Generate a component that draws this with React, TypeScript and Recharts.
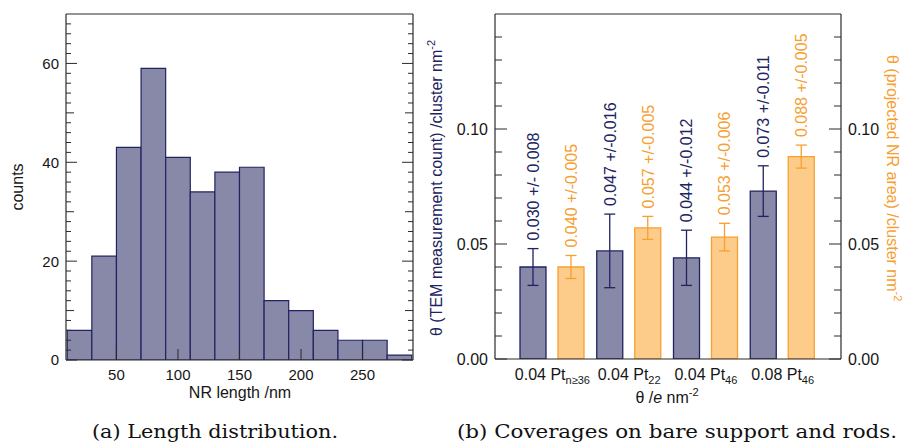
import React from "react";
import { Bar, BarChart, ErrorBar, LabelList, XAxis, YAxis } from "recharts";

// (a) histogram of nanorod lengths, 20 nm bins
const binStarts = [10, 30, 50, 70, 90, 110, 130, 150, 170, 190, 210, 230, 250, 270];
const binCounts = [6, 21, 43, 59, 41, 34, 38, 39, 12, 10, 6, 4, 4, 1];
const lengthTicks = [50, 100, 150, 200, 250];
const countTicks = [
  0, 2, 4, 6, 8, 10, 12, 14, 16, 18, 20, 22, 24, 26, 28, 30, 32, 34, 36, 38, 40,
  42, 44, 46, 48, 50, 52, 54, 56, 58, 60, 62, 64, 66, 68,
];

// (b) coverages
const coveragePrefix = ["0.04 Pt", "0.04 Pt", "0.04 Pt", "0.08 Pt"];
const coverageSub = ["n≥36", "22", "46", "46"];
const temValues = [0.04, 0.047, 0.044, 0.073];
const temErrors = [0.008, 0.016, 0.012, 0.011];
const temLabels = ["0.030 +/- 0.008", "0.047 +/-0.016", "0.044 +/-0.012", "0.073 +/-0.011"];
const areaValues = [0.04, 0.057, 0.053, 0.088];
const areaErrors = [0.005, 0.005, 0.006, 0.005];
const areaLabels = ["0.040 +/-0.005", "0.057 +/-0.005", "0.053 +/-0.006", "0.088 +/-0.005"];
const thetaTicks = [
  0, 0.01, 0.02, 0.03, 0.04, 0.05, 0.06, 0.07, 0.08, 0.09, 0.1, 0.11, 0.12, 0.13, 0.14,
];

const histData = binStarts.map((start, i) => ({ mid: start + 10, count: binCounts[i] }));
const coverageKeys = coveragePrefix.map((p, i) => p + coverageSub[i]);
const coverageData = coverageKeys.map((key, i) => ({
  cat: key,
  tem: temValues[i],
  temErr: temErrors[i],
  area: areaValues[i],
  areaErr: areaErrors[i],
}));

const SANS = "'Liberation Sans', Arial, Helvetica, sans-serif";
const SERIF = "'DejaVu Serif', 'Liberation Serif', serif";
const AXIS = "#2b2b2b";
const INK = "#161616";
const NAVY = "#212360";
const NAVY_FILL = "#8889a9";
const ORANGE = "#f6a032";
const ORANGE_FILL = "#fdcc8b";

type TickProps = {
  x?: number;
  y?: number;
  payload?: { value: any; coordinate: number };
};

// left chart ticks
function CountTickLeft({ x = 0, y = 0, payload }: TickProps) {
  const v = Number(payload?.value ?? 0);
  const ax = x + 7;
  const len = v % 20 === 0 ? 11 : v % 10 === 0 ? 8 : 5;
  return (
    <g>
      <line x1={ax} x2={ax + len} y1={y} y2={y} stroke={AXIS} strokeWidth={1} />
      {v % 20 === 0 && (
        <text x={x} y={y} dy="0.36em" textAnchor="end" fontSize={15} fontFamily={SANS} fill={INK}>
          {v}
        </text>
      )}
    </g>
  );
}

function CountTickRight({ x = 0, y = 0, payload }: TickProps) {
  const v = Number(payload?.value ?? 0);
  const len = v % 20 === 0 ? 11 : v % 10 === 0 ? 8 : 5;
  return <line x1={x} x2={x - len} y1={y} y2={y} stroke={AXIS} strokeWidth={1} />;
}

function LengthTickBottom({ x = 0, y = 0, payload }: TickProps) {
  const ay = y - 8;
  return (
    <g>
      <line x1={x} x2={x} y1={ay} y2={ay - 11} stroke={AXIS} strokeWidth={1} />
      <text x={x} y={y} dy={12} textAnchor="middle" fontSize={15} fontFamily={SANS} fill={INK}>
        {payload?.value}
      </text>
    </g>
  );
}

function LengthTickTop({ x = 0, y = 0 }: TickProps) {
  return <line x1={x} x2={x} y1={y} y2={y + 11} stroke={AXIS} strokeWidth={1} />;
}

// right chart ticks
function ThetaTickLeft({ x = 0, y = 0, payload }: TickProps) {
  const v = Number(payload?.value ?? 0);
  const major = Math.round(v * 100) % 5 === 0;
  const ax = x + 7;
  return (
    <g>
      <line x1={ax} x2={ax + (major ? 12 : 7)} y1={y} y2={y} stroke={AXIS} strokeWidth={1} />
      {major && (
        <text x={x} y={y} dy="0.36em" textAnchor="end" fontSize={16} fontFamily={SANS} fill={INK}>
          {v.toFixed(2)}
        </text>
      )}
    </g>
  );
}

function ThetaTickRight({ x = 0, y = 0, payload }: TickProps) {
  const v = Number(payload?.value ?? 0);
  const major = Math.round(v * 100) % 5 === 0;
  const ax = x - 7;
  return (
    <g>
      <line x1={ax} x2={ax - (major ? 12 : 7)} y1={y} y2={y} stroke={AXIS} strokeWidth={1} />
      {major && (
        <text x={x} y={y} dy="0.36em" textAnchor="start" fontSize={16} fontFamily={SANS} fill={INK}>
          {v.toFixed(2)}
        </text>
      )}
    </g>
  );
}

function CategoryTick({ x = 0, y = 0, payload }: TickProps) {
  const i = coverageKeys.indexOf(String(payload?.value));
  if (i < 0) return null;
  return (
    <text x={x} y={y} dy={13} textAnchor="middle" fontSize={16} fontFamily={SANS} fill={INK}>
      {coveragePrefix[i]}
      <tspan fontSize={11} dy={4}>
        {coverageSub[i]}
      </tspan>
    </text>
  );
}

function errorLabel(values: number[], errors: number[], texts: string[], color: string) {
  return (props: any) => {
    const vb = props.viewBox ?? props;
    const i = props.index ?? 0;
    const x = Number(vb.x ?? props.x);
    const y = Number(vb.y ?? props.y);
    const w = Number(vb.width ?? props.width);
    const h = Number(vb.height ?? props.height);
    const top = y - (errors[i] / values[i]) * h;
    return (
      <text
        transform={`translate(${x + w / 2},${top - 8}) rotate(-90)`}
        dy="0.36em"
        textAnchor="start"
        fontSize={16}
        fontFamily={SANS}
        fill={color}
      >
        {texts[i]}
      </text>
    );
  };
}

function LengthHistogram() {
  return (
    <BarChart
      width={440}
      height={443}
      data={histData}
      margin={{ top: 4, right: 17, bottom: 53, left: 26 }}
      barCategoryGap={0}
      barGap={0}
    >
      <XAxis
        xAxisId="b"
        dataKey="mid"
        type="number"
        domain={[9, 291]}
        allowDataOverflow
        ticks={lengthTicks}
        interval={0}
        height={30}
        tickSize={0}
        tickMargin={8}
        tickLine={false}
        axisLine={{ stroke: AXIS, strokeWidth: 1.2 }}
        tick={(p: any) => <LengthTickBottom {...p} />}
      />
      <XAxis
        xAxisId="t"
        orientation="top"
        type="number"
        domain={[9, 291]}
        allowDataOverflow
        ticks={lengthTicks}
        interval={0}
        height={10}
        tickSize={0}
        tickMargin={0}
        tickLine={false}
        axisLine={{ stroke: AXIS, strokeWidth: 1.2 }}
        tick={(p: any) => <LengthTickTop {...p} />}
      />
      <YAxis
        yAxisId="l"
        type="number"
        domain={[0, 70]}
        allowDataOverflow
        ticks={countTicks}
        interval={0}
        width={40}
        tickSize={0}
        tickMargin={7}
        tickLine={false}
        axisLine={{ stroke: AXIS, strokeWidth: 1.2 }}
        tick={(p: any) => <CountTickLeft {...p} />}
      />
      <YAxis
        yAxisId="r"
        orientation="right"
        type="number"
        domain={[0, 70]}
        allowDataOverflow
        ticks={countTicks}
        interval={0}
        width={10}
        tickSize={0}
        tickMargin={0}
        tickLine={false}
        axisLine={{ stroke: AXIS, strokeWidth: 1.2 }}
        tick={(p: any) => <CountTickRight {...p} />}
      />
      <Bar
        xAxisId="b"
        yAxisId="l"
        dataKey="count"
        barSize={24.6}
        fill={NAVY_FILL}
        stroke={NAVY}
        strokeWidth={1.2}
        isAnimationActive={false}
      />
    </BarChart>
  );
}

function CoverageChart() {
  return (
    <BarChart
      width={463}
      height={443}
      data={coverageData}
      margin={{ top: 4, right: 17, bottom: 54, left: 10 }}
      barGap={12}
    >
      <XAxis
        xAxisId="b"
        dataKey="cat"
        type="category"
        padding={{ left: 19, right: 20 }}
        interval={0}
        height={30}
        tickSize={0}
        tickMargin={8}
        tickLine={false}
        axisLine={{ stroke: AXIS, strokeWidth: 1.2 }}
        tick={(p: any) => <CategoryTick {...p} />}
      />
      <XAxis
        xAxisId="t"
        orientation="top"
        dataKey="cat"
        type="category"
        padding={{ left: 19, right: 20 }}
        height={10}
        tick={false}
        tickLine={false}
        axisLine={{ stroke: AXIS, strokeWidth: 1.2 }}
      />
      <YAxis
        yAxisId="l"
        type="number"
        domain={[0, 0.15]}
        allowDataOverflow
        ticks={thetaTicks}
        interval={0}
        width={45}
        tickSize={0}
        tickMargin={7}
        tickLine={false}
        axisLine={{ stroke: AXIS, strokeWidth: 1.2 }}
        tick={(p: any) => <ThetaTickLeft {...p} />}
      />
      <YAxis
        yAxisId="r"
        orientation="right"
        type="number"
        domain={[0, 0.15]}
        allowDataOverflow
        ticks={thetaTicks}
        interval={0}
        width={45}
        tickSize={0}
        tickMargin={7}
        tickLine={false}
        axisLine={{ stroke: AXIS, strokeWidth: 1.2 }}
        tick={(p: any) => <ThetaTickRight {...p} />}
      />
      <Bar
        xAxisId="b"
        yAxisId="l"
        dataKey="tem"
        barSize={26}
        fill={NAVY_FILL}
        stroke={NAVY}
        strokeWidth={1.3}
        isAnimationActive={false}
      >
        <ErrorBar dataKey="temErr" width={5.5} stroke={NAVY} strokeWidth={1.3} direction="y" isAnimationActive={false} />
        <LabelList dataKey="tem" content={errorLabel(temValues, temErrors, temLabels, NAVY)} />
      </Bar>
      <Bar
        xAxisId="b"
        yAxisId="l"
        dataKey="area"
        barSize={26}
        fill={ORANGE_FILL}
        stroke={ORANGE}
        strokeWidth={1.3}
        isAnimationActive={false}
      >
        <ErrorBar dataKey="areaErr" width={5.5} stroke={ORANGE} strokeWidth={1.3} direction="y" isAnimationActive={false} />
        <LabelList dataKey="area" content={errorLabel(areaValues, areaErrors, areaLabels, ORANGE)} />
      </Bar>
    </BarChart>
  );
}

export default function App() {
  return (
    <div style={{ position: "absolute", left: 0, top: 0, width: 903, height: 443, background: "#fff" }}>
      <div style={{ position: "absolute", left: 0, top: 0 }}>
        <LengthHistogram />
      </div>
      <div style={{ position: "absolute", left: 440, top: 0 }}>
        <CoverageChart />
      </div>
      <svg
        width={903}
        height={443}
        style={{ position: "absolute", left: 0, top: 0, pointerEvents: "none" }}
        fontFamily={SANS}
      >
        <text x={23} y={187} transform="rotate(-90 23 187)" textAnchor="middle" fontSize={16} fill={INK}>
          counts
        </text>
        <text x={240} y={398} textAnchor="middle" fontSize={16} fill={INK}>
          NR length /nm
        </text>
        <text transform="translate(442,336) rotate(-90)" textAnchor="start" fontSize={16} fill={NAVY}>
          θ (TEM measurement count) /cluster nm
          <tspan fontSize={11} dy={-7}>
            -2
          </tspan>
        </text>
        <text transform="translate(887,55) rotate(90)" textAnchor="start" fontSize={16} fill={ORANGE}>
          θ (projected NR area) /cluster nm
          <tspan fontSize={11} dy={-7}>
            -2
          </tspan>
        </text>
        <text x={667} y={403} textAnchor="middle" fontSize={16} fill={INK}>
          θ /<tspan fontStyle="italic">e</tspan> nm
          <tspan fontSize={11} dy={-7}>
            -2
          </tspan>
        </text>
        <text
          x={92}
          y={437.5}
          fontFamily={SERIF}
          fontSize={18}
          fill="#111"
          textLength={246}
          lengthAdjust="spacingAndGlyphs"
        >
          (a) Length distribution.
        </text>
        <text
          x={457}
          y={437.5}
          fontFamily={SERIF}
          fontSize={18}
          fill="#111"
          textLength={440}
          lengthAdjust="spacingAndGlyphs"
        >
          (b) Coverages on bare support and rods.
        </text>
      </svg>
    </div>
  );
}
